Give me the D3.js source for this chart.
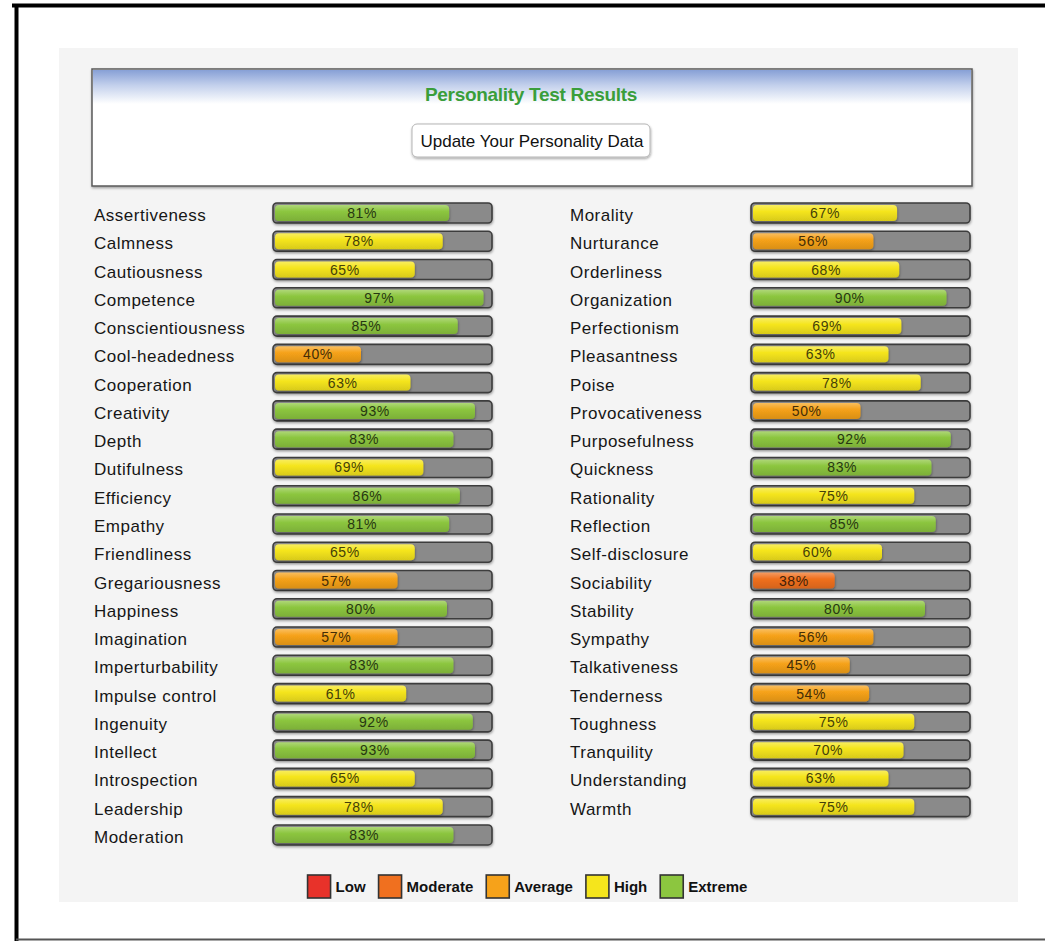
<!DOCTYPE html>
<html>
<head>
<meta charset="utf-8">
<script src="https://cdn.jsdelivr.net/npm/d3@7"></script>
<style>
  body { margin: 0; background: #fff; }
  svg { display: block; font-family: "Liberation Sans", Arial, Helvetica, sans-serif; }
</style>
</head>
<body>
<script>
// traits and scores
const leftTraits = ["Assertiveness", "Calmness", "Cautiousness", "Competence", "Conscientiousness",
  "Cool-headedness", "Cooperation", "Creativity", "Depth", "Dutifulness", "Efficiency", "Empathy",
  "Friendliness", "Gregariousness", "Happiness", "Imagination", "Imperturbability", "Impulse control",
  "Ingenuity", "Intellect", "Introspection", "Leadership", "Moderation"];
const leftScores = [81, 78, 65, 97, 85, 40, 63, 93, 83, 69, 86, 81, 65, 57, 80, 57, 83, 61, 92, 93, 65, 78, 83];

const rightTraits = ["Morality", "Nurturance", "Orderliness", "Organization", "Perfectionism",
  "Pleasantness", "Poise", "Provocativeness", "Purposefulness", "Quickness", "Rationality", "Reflection",
  "Self-disclosure", "Sociability", "Stability", "Sympathy", "Talkativeness", "Tenderness", "Toughness",
  "Tranquility", "Understanding", "Warmth"];
const rightScores = [67, 56, 68, 90, 69, 63, 78, 50, 92, 83, 75, 85, 60, 38, 80, 56, 45, 54, 75, 70, 63, 75];

const levels = ["Low", "Moderate", "Average", "High", "Extreme"];
const levelCuts = [20, 40, 60, 80];
const levelColors = ["#e8322a", "#f0701f", "#f6a21a", "#f5e51c", "#8cc63f"];

const title = "Personality Test Results";
const buttonLabel = "Update Your Personality Data";

const width = 1045, height = 941;

const svg = d3.select("body").append("svg")
    .attr("width", width)
    .attr("height", height);

const defs = svg.append("defs");

defs.append("filter").attr("id", "shadow")
    .attr("x", "-5%").attr("y", "-30%").attr("width", "110%").attr("height", "170%")
  .append("feDropShadow")
    .attr("dx", 0.5).attr("dy", 1.5).attr("stdDeviation", 1)
    .attr("flood-color", "#000").attr("flood-opacity", 0.35);

levels.forEach((l, i) => {
  const c = levelColors[i];
  const g = defs.append("linearGradient").attr("id", "grad-" + l)
      .attr("x1", 0).attr("y1", 0).attr("x2", 0).attr("y2", 1);
  g.append("stop").attr("offset", "0%").attr("stop-color", d3.interpolateRgb(c, "#fff")(0.3));
  g.append("stop").attr("offset", "40%").attr("stop-color", c);
  g.append("stop").attr("offset", "100%").attr("stop-color", d3.color(c).darker(0.35));
});

const hdrGrad = defs.append("linearGradient").attr("id", "hdr")
    .attr("x1", 0).attr("y1", 0).attr("x2", 0).attr("y2", 1);
hdrGrad.append("stop").attr("offset", "0%").attr("stop-color", "#87a0d6");
hdrGrad.append("stop").attr("offset", "45%").attr("stop-color", "#c3d0ec");
hdrGrad.append("stop").attr("offset", "100%").attr("stop-color", "#fff");

// page frame
svg.append("line").attr("x1", 12).attr("x2", width).attr("y1", 5.5).attr("y2", 5.5)
    .attr("stroke", "#000").attr("stroke-width", 4);
svg.append("line").attr("x1", 16.5).attr("x2", 16.5).attr("y1", 4).attr("y2", height)
    .attr("stroke", "#000").attr("stroke-width", 4);
svg.append("line").attr("x1", 16).attr("x2", width).attr("y1", 939.5).attr("y2", 939.5)
    .attr("stroke", "#555").attr("stroke-width", 2);

// light panel
svg.append("rect").attr("x", 59).attr("y", 48).attr("width", 959).attr("height", 854)
    .attr("fill", "#f4f4f4");

// header box
svg.append("rect").attr("x", 92).attr("y", 69).attr("width", 880).attr("height", 117)
    .attr("fill", "#fff").attr("stroke", "#5a5a5a").attr("stroke-width", 1.5)
    .attr("filter", "url(#shadow)");
svg.append("rect").attr("x", 93).attr("y", 70).attr("width", 878).attr("height", 34)
    .attr("fill", "url(#hdr)");

svg.append("text")
    .attr("x", 531).attr("y", 101)
    .attr("text-anchor", "middle")
    .attr("fill", "#3a9e3a")
    .style("font-size", "19px").style("font-weight", "bold")
    .style("letter-spacing", "-0.3px")
    .text(title);

svg.append("rect").attr("x", 412).attr("y", 124).attr("width", 238).attr("height", 33).attr("rx", 5)
    .attr("fill", "#fff").attr("stroke", "#b5b5b5").attr("stroke-width", 1)
    .attr("filter", "url(#shadow)");
svg.append("text")
    .attr("x", 532).attr("y", 147)
    .attr("text-anchor", "middle")
    .attr("fill", "#111")
    .style("font-size", "17px")
    .text(buttonLabel);

// scales
const levelOf = d3.scaleThreshold().domain(levelCuts).range(levels);
const colorOf = d3.scaleOrdinal().domain(levels).range(levelColors);

const y = d3.scalePoint()
    .domain(d3.range(leftTraits.length))
    .range([213, 213 + (leftTraits.length - 1) * 28.27]);

const barH = 20;

function column(traits, scores, labelX, x) {
  const rows = traits.map((t, i) => ({ trait: t, score: scores[i], i }));
  const g = svg.append("g");

  g.selectAll(".label")
    .data(rows)
    .enter().append("text")
      .attr("x", labelX)
      .attr("y", d => y(d.i) + 8)
      .attr("fill", "#161616")
      .style("font-size", "17px")
      .style("letter-spacing", "0.5px")
      .text(d => d.trait);

  g.selectAll(".track")
    .data(rows)
    .enter().append("rect")
      .attr("x", x(0) - 2)
      .attr("y", d => y(d.i) - barH / 2)
      .attr("width", x(100) - x(0) + 4)
      .attr("height", barH)
      .attr("rx", 4)
      .attr("fill", "#8a8a8a")
      .attr("stroke", "#3d3d3d")
      .attr("stroke-width", 1.6)
      .attr("filter", "url(#shadow)");

  g.selectAll(".fill")
    .data(rows)
    .enter().append("rect")
      .attr("x", x(0))
      .attr("y", d => y(d.i) - barH / 2 + 2)
      .attr("width", d => x(d.score) - x(0))
      .attr("height", barH - 4)
      .attr("rx", 4)
      .attr("fill", d => "url(#grad-" + levelOf(d.score) + ")")
      .attr("filter", "url(#shadow)");

  g.selectAll(".pct")
    .data(rows)
    .enter().append("text")
      .attr("x", d => (x(0) + x(d.score)) / 2)
      .attr("y", d => y(d.i) + 5)
      .attr("text-anchor", "middle")
      .attr("fill", d => d3.color(colorOf(levelOf(d.score))).darker(3.6))
      .style("font-size", "14px")
      .style("letter-spacing", "0.6px")
      .text(d => d.score + "%");
}

column(leftTraits, leftScores, 94, d3.scaleLinear().domain([0, 100]).range([275, 490]));
column(rightTraits, rightScores, 570, d3.scaleLinear().domain([0, 100]).range([753, 968]));

// legend
const legend = svg.append("g");
let lx = 0;
levels.forEach((l, i) => {
  const item = legend.append("g").attr("transform", `translate(${lx},0)`);
  item.append("rect")
      .attr("x", 1).attr("y", -11).attr("width", 23).attr("height", 23)
      .attr("fill", levelColors[i]).attr("stroke", "#333").attr("stroke-width", 1.6);
  const t = item.append("text")
      .attr("x", 29).attr("y", 6)
      .attr("fill", "#111")
      .style("font-size", "15px").style("font-weight", "bold")
      .text(l);
  lx += 29 + t.node().getComputedTextLength() + 12;
});
const legendW = lx - 12;
legend.attr("transform", `translate(${527 - legendW / 2},886)`);
</script>
</body>
</html>
